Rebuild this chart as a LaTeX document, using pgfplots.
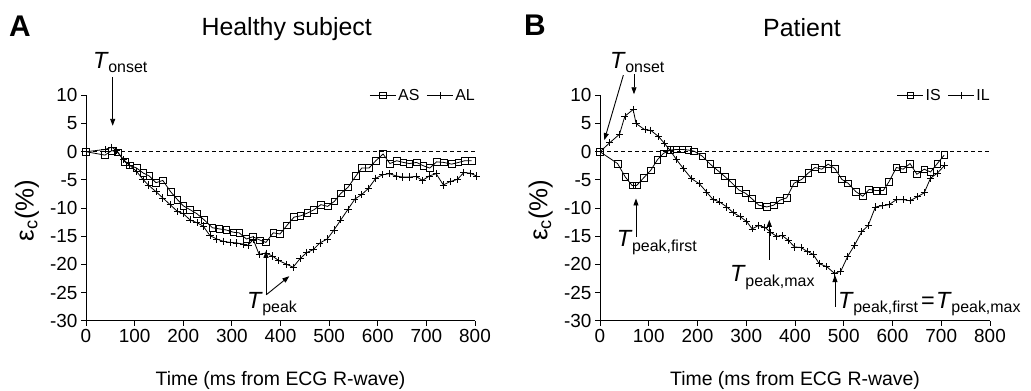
\documentclass[border=0pt]{standalone}
\usepackage{fontspec}
\setmainfont{Liberation Sans}
\usepackage{pgfplots}
\pgfplotsset{compat=1.18}
\usetikzlibrary{arrows.meta}

\newcommand{\Tlab}[1]{{\fontsize{23.5}{23.5}\selectfont\textit{T}}\kern-0.5bp\raisebox{-4.5bp}{\fontsize{16}{16}\selectfont #1}}

\tikzset{arr/.style={line width=0.9bp, -{Triangle[length=7bp,width=5bp]}}}

\pgfplotsset{
  panel/.style={
    scale only axis, height=225.3bp,
    xmin=0, xmax=800, ymin=-30, ymax=10,
    axis x line*=bottom, axis y line*=left,
    axis line style={-, line width=0.8bp, black},
    xtick={0,100,...,800}, ytick={-30,-25,...,10},
    tick align=outside, major tick length=5bp,
    tick style={black, line width=0.8bp},
    every tick label/.append style={font=\fontsize{19}{19}\selectfont},
    /pgf/number format/assume math mode=true,
    clip=false,
    xlabel={Time (ms from ECG R-wave)},
    xlabel style={at={(axis description cs:0.5,0)}, anchor=center, yshift=-60bp, font=\fontsize{19.5}{19.5}\selectfont},
    ylabel={ε\textsubscript{c}(\%)},
    ylabel style={at={(axis description cs:-0.152,0.49)}, anchor=center, font=\fontsize{26}{26}\selectfont},
    legend style={at={(axis description cs:1.005,1)}, anchor=east, draw=none, fill=none,
      font=\fontsize{16}{16}\selectfont, legend columns=2, inner sep=0pt,
      /tikz/every even column/.append style={column sep=5bp}},
    legend image code/.code={\draw[mark repeat=2,mark phase=2] plot coordinates {(0bp,0bp) (13bp,0bp) (26bp,0bp)};},
  },
  sq/.style={black, line width=0.8bp, mark=square, mark size=3.3bp, mark options={solid, line width=0.7bp}},
  pl/.style={black, line width=0.8bp, mark=+, mark size=3.6bp, mark options={solid, line width=0.7bp}},
  zl/.style={black, line width=0.7bp, dash pattern=on 4bp off 3bp, forget plot},
}

\begin{document}
\begin{tikzpicture}
\useasboundingbox (0,0) rectangle (1031bp,391bp);

% ---------------- Panel A ----------------
\begin{axis}[panel, width=389bp, at={(86bp,70.3bp)}, anchor=south west]
\addplot[zl] coordinates {(0,0) (800,0)};
\addplot[sq] table {
0 0
39 -0.6
53 0.2
65 -0.1
80 -1.8
90 -2.4
104 -2.9
118 -3.8
130 -4.3
144 -5.5
158 -5.1
174 -7.1
188 -8.5
200 -9.6
214 -10.3
228 -11.0
243 -12.1
260 -13.5
274 -13.7
289 -13.9
303 -14.3
315 -14.4
330 -15.5
343 -15.1
358 -15.7
370 -16.1
385 -14.4
399 -14.6
413 -13.1
428 -11.6
441 -11.4
455 -10.9
469 -10.3
483 -9.4
497 -9.7
511 -8.8
524 -7.4
539 -6.3
555 -4.3
567 -2.9
582 -2.9
596 -1.6
611 -0.4
625 -2.1
639 -1.6
653 -1.9
665 -2.1
680 -1.9
694 -2.5
707 -2.9
721 -1.8
736 -1.9
752 -2.2
766 -1.9
779 -1.6
793 -1.6
};
\addlegendentry{AS}
\addplot[pl] table {
0 0
39 0.4
53 0.8
63 0.2
77 -1.4
90 -2.4
104 -3.5
117 -4.9
128 -5.9
144 -7.1
158 -8.2
173 -9.4
188 -10.6
200 -11.0
214 -12.1
228 -12.6
241 -13.2
255 -14.9
269 -15.5
282 -15.9
296 -16.1
310 -16.2
324 -16.4
333 -16.6
344 -15.6
356 -18.2
370 -18.0
383 -18.5
396 -19.3
413 -20.0
426 -20.5
440 -19.0
454 -17.9
467 -17.4
481 -16.2
496 -15.5
510 -13.9
524 -12.1
539 -10.2
553 -8.4
567 -7.6
581 -6.5
596 -4.7
610 -4.1
624 -3.9
638 -4.3
651 -4.5
665 -4.5
679 -4.4
692 -5.1
706 -4.3
720 -3.9
735 -5.9
749 -5.3
764 -4.9
777 -3.7
790 -3.8
803 -4.3
};
\addlegendentry{AL}
% annotations
\draw[arr] (axis cs:54.9,13.3) -- (axis cs:54.9,4.6);
\node[anchor=base west, inner sep=0pt] at (axis cs:14.4,14.86) {\Tlab{onset}};
\draw[arr] (axis cs:370.2,-25.4) -- (axis cs:370.2,-17.6);
\draw[arr] (axis cs:370.6,-25.4) -- (axis cs:418.1,-22.1);
\node[anchor=base west, inner sep=0pt] at (axis cs:331,-27.8) {\Tlab{peak}};
\end{axis}

% ---------------- Panel B ----------------
\begin{axis}[panel, width=390bp, at={(600bp,70.3bp)}, anchor=south west]
\addplot[zl] coordinates {(0,0) (800,0)};
\addplot[sq] table {
0 0
36 -2.1
52 -4.5
66 -6.0
75 -6.0
90 -4.6
104 -3.3
118 -1.4
130 -0.3
144 0.3
157 0.4
169 0.4
181 0.3
193 0.1
210 -0.8
226 -2.2
241 -3.3
256 -4.4
270 -5.5
285 -6.8
299 -7.4
311 -8.3
326 -9.5
342 -9.8
356 -9.5
369 -8.6
383 -8.2
398 -5.6
414 -4.9
427 -3.8
441 -2.8
455 -3.1
468 -2.2
482 -3.0
496 -4.9
509 -5.6
525 -7.1
539 -7.9
552 -6.7
567 -6.9
581 -6.9
593 -5.3
608 -2.8
622 -3.1
636 -2.1
650 -4.0
665 -3.1
678 -3.6
692 -2.1
706 -0.6
};
\addlegendentry{IS}
\addplot[pl] table {
0 0
20 1.6
40 3.1
51 6.3
68 7.5
74 5.0
92 3.9
104 3.8
120 2.7
133 1.4
144 0.2
157 -1.4
171 -3.0
188 -4.8
204 -5.7
219 -7.2
232 -8.5
245 -8.9
260 -9.8
273 -10.8
287 -11.5
301 -12.4
312 -13.7
325 -13.1
338 -13.4
350 -14.3
362 -15.0
374 -14.9
386 -15.7
399 -16.9
412 -17.0
425 -17.7
437 -18.2
450 -19.9
465 -20.4
481 -21.6
494 -21.2
508 -18.6
522 -16.6
537 -14.2
550 -13.1
565 -9.8
579 -9.6
593 -9.4
608 -8.5
622 -8.5
636 -8.7
651 -8.0
665 -7.3
678 -4.7
692 -3.8
706 -2.5
};
\addlegendentry{IL}
% annotations
\node[anchor=base west, inner sep=0pt] at (axis cs:20.5,14.86) {\Tlab{onset}};
\draw[arr] (axis cs:47.9,13.6) -- (axis cs:8.9,2.06);
\draw[arr] (axis cs:69.7,13.8) -- (axis cs:69.7,10.2);
\draw[arr] (axis cs:73.8,-15.1) -- (axis cs:73.8,-8.3);
\node[anchor=base west, inner sep=0pt] at (axis cs:34.2,-16.87) {\Tlab{peak,first}};
\draw[arr] (axis cs:347.3,-19.2) -- (axis cs:347.3,-12.1);
\node[anchor=base west, inner sep=0pt] at (axis cs:266.7,-23.08) {\Tlab{peak,max}};
\draw[arr] (axis cs:482,-27.5) -- (axis cs:482,-21.9);
\node[anchor=base west, inner sep=0pt] at (axis cs:488.2,-27.8) {\Tlab{peak,first}\hspace{3bp}{\fontsize{23.5}{23.5}\selectfont =}\hspace{1.5bp}\Tlab{peak,max}};
\end{axis}

% titles and panel letters
\node[anchor=base, inner sep=0pt, font=\fontsize{25}{25}\selectfont] at (286.7bp,355bp) {Healthy subject};
\node[anchor=base, inner sep=0pt, font=\fontsize{25}{25}\selectfont] at (802bp,354.5bp) {Patient};
\node[anchor=base west, inner sep=0pt, font=\fontsize{30}{30}\selectfont\bfseries] at (9bp,354bp) {A};
\node[anchor=base west, inner sep=0pt, font=\fontsize{30}{30}\selectfont\bfseries] at (524bp,355bp) {B};
\end{tikzpicture}
\end{document}
